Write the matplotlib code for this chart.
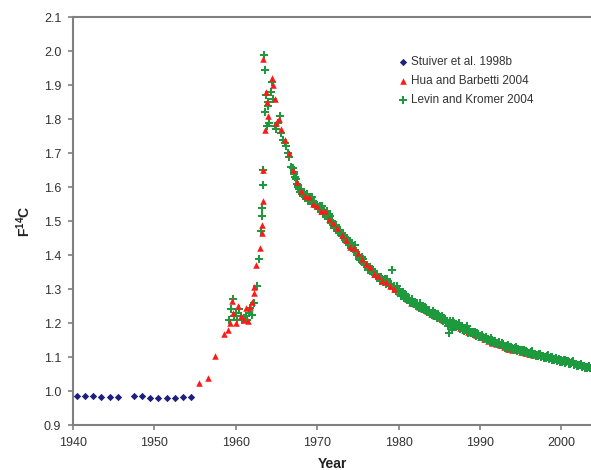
import numpy as np
import matplotlib.pyplot as plt

plt.rcParams['font.family'] = ['Liberation Sans', 'DejaVu Sans']
plt.rcParams['mathtext.fontset'] = 'custom'
plt.rcParams['mathtext.rm'] = 'Liberation Sans'
plt.rcParams['mathtext.bf'] = 'Liberation Sans:bold'

# Stuiver et al. 1998b (tree rings, pre-bomb)
stuiver_year = [1940.5, 1941.5, 1942.5, 1943.5, 1944.5, 1945.5,
                1947.5, 1948.5, 1949.5, 1950.5, 1951.5, 1952.5, 1953.5, 1954.5]
stuiver_f = [0.984, 0.985, 0.985, 0.981, 0.983, 0.983,
             0.985, 0.984, 0.980, 0.980, 0.980, 0.980, 0.983, 0.983]

# Hua and Barbetti 2004
hua_early_year = [1955.5, 1956.6, 1957.5, 1958.5, 1959.0, 1959.3, 1959.5, 1959.7,
                  1960.0, 1960.3, 1960.6, 1961.0, 1961.3, 1961.5, 1961.8, 1962.0,
                  1962.2, 1962.3, 1962.5, 1963.0, 1963.2, 1963.25, 1963.3, 1963.35,
                  1963.4, 1963.6, 1963.7, 1963.8, 1964.0, 1964.4, 1964.6, 1964.8,
                  1965.0, 1965.3, 1965.6, 1966.0, 1966.5]
hua_early_f = [1.024, 1.038, 1.103, 1.168, 1.180, 1.200, 1.265, 1.230,
               1.200, 1.250, 1.220, 1.210, 1.245, 1.205, 1.247, 1.262,
               1.288, 1.306, 1.370, 1.420, 1.465, 1.488, 1.560, 1.650,
               1.978, 1.767, 1.880, 1.850, 1.810, 1.920, 1.900, 1.860,
               1.790, 1.800, 1.770, 1.740, 1.700]
hua_start, hua_step = 1967.0, 0.5
hua_f = [1.650, 1.615, 1.590, 1.575, 1.570, 1.550, 1.545, 1.530, 1.530, 1.505,
         1.495, 1.480, 1.460, 1.445, 1.425, 1.420, 1.405, 1.390, 1.375, 1.365,
         1.345, 1.340, 1.325, 1.320, 1.310, 1.300, 1.290, 1.280, 1.272, 1.260,
         1.255, 1.248, 1.240, 1.235, 1.228, 1.222, 1.215, 1.210, 1.200, 1.195,
         1.190, 1.185, 1.180, 1.175, 1.170, 1.165, 1.158, 1.152, 1.148, 1.142,
         1.138, 1.135, 1.130, 1.125, 1.122, 1.120, 1.115, 1.112, 1.108, 1.105]

# Levin and Kromer 2004
levin_early_year = [1959.2, 1959.4, 1959.6, 1959.8, 1960.0, 1960.2, 1960.4, 1960.6,
                    1960.8, 1961.0, 1961.2, 1961.4, 1961.6, 1961.8, 1962.0, 1962.3,
                    1962.6, 1962.9, 1963.1, 1963.2, 1963.25, 1963.3, 1963.35, 1963.45,
                    1963.55, 1963.6, 1963.7, 1963.8, 1963.9, 1964.0, 1964.1, 1964.3,
                    1964.5, 1964.6, 1964.8, 1965.0, 1965.2, 1965.4, 1965.6, 1965.8,
                    1966.0, 1966.2, 1966.4, 1966.6, 1966.8]
levin_early_f = [1.210, 1.240, 1.270, 1.220, 1.230, 1.210, 1.240, 1.220,
                 1.210, 1.215, 1.220, 1.210, 1.230, 1.245, 1.225, 1.260,
                 1.310, 1.390, 1.470, 1.515, 1.540, 1.605, 1.650, 1.990,
                 1.945, 1.820, 1.870, 1.780, 1.840, 1.850, 1.790, 1.880,
                 1.910, 1.860, 1.780, 1.770, 1.790, 1.810, 1.760, 1.740,
                 1.730, 1.720, 1.700, 1.690, 1.660]
levin_a_start, levin_step = 1967.0, 0.2
levin_a_f = [1.655, 1.640, 1.625, 1.600, 1.595,
             1.590, 1.580, 1.585, 1.570, 1.575,
             1.565, 1.560, 1.570, 1.555, 1.550,
             1.545, 1.540, 1.535, 1.545, 1.525,
             1.520, 1.530, 1.510, 1.515, 1.500,
             1.490, 1.485, 1.480, 1.470, 1.475,
             1.455, 1.460, 1.445, 1.440, 1.445,
             1.430, 1.425, 1.420, 1.430, 1.410,
             1.400, 1.395, 1.385, 1.390, 1.375,
             1.370, 1.365, 1.360, 1.355, 1.360,
             1.350, 1.340, 1.345, 1.335, 1.330,
             1.330, 1.325, 1.320, 1.330, 1.315,
             1.310, 1.355, 1.305, 1.300, 1.310,
             1.295, 1.290, 1.285, 1.280, 1.285,
             1.275, 1.270, 1.265, 1.270, 1.260,
             1.258, 1.255, 1.250, 1.260, 1.245,
             1.245, 1.240, 1.245, 1.235, 1.232,
             1.230, 1.235, 1.225, 1.220, 1.228,
             1.220, 1.215, 1.210, 1.215, 1.205,
             1.205, 1.170, 1.200, 1.180, 1.200,
             1.195, 1.190, 1.200, 1.190, 1.185,
             1.185, 1.180, 1.190, 1.178, 1.175,
             1.175, 1.170, 1.175, 1.165, 1.168,
             1.162, 1.165, 1.158, 1.155, 1.160,
             1.152, 1.148, 1.155, 1.145, 1.148,
             1.142, 1.140, 1.145, 1.135, 1.138,
             1.133, 1.130, 1.135, 1.128, 1.130,
             1.126, 1.124, 1.130, 1.120, 1.122,
             1.120, 1.118, 1.122, 1.115, 1.116,
             1.113, 1.110, 1.118, 1.108, 1.110,
             1.107, 1.105, 1.110, 1.102, 1.104,
             1.101, 1.100, 1.105, 1.097, 1.099,
             1.095, 1.093, 1.098, 1.090, 1.092,
             1.090, 1.088, 1.092, 1.085, 1.087,
             1.084, 1.082, 1.087, 1.079, 1.081,
             1.078, 1.076, 1.080, 1.073, 1.075,
             1.072, 1.070, 1.074]
levin_b_start = 1967.1
levin_b_f = [1.645, 1.630, 1.610, 1.605, 1.585,
             1.580, 1.575, 1.570, 1.580, 1.560,
             1.560, 1.565, 1.550, 1.545, 1.550,
             1.535, 1.545, 1.530, 1.520, 1.530,
             1.515, 1.505, 1.520, 1.495, 1.495,
             1.480, 1.490, 1.475, 1.465, 1.460,
             1.465, 1.450, 1.440, 1.450, 1.435,
             1.420, 1.435, 1.415, 1.415, 1.400,
             1.390, 1.385, 1.395, 1.380, 1.370,
             1.365, 1.355, 1.365, 1.350, 1.345,
             1.345, 1.335, 1.335, 1.325, 1.335,
             1.320, 1.330, 1.315, 1.320, 1.310,
             1.315, 1.300, 1.310, 1.295, 1.300,
             1.290, 1.280, 1.290, 1.275, 1.278,
             1.268, 1.275, 1.260, 1.262, 1.255,
             1.250, 1.260, 1.245, 1.250, 1.240,
             1.238, 1.248, 1.232, 1.238, 1.228,
             1.225, 1.222, 1.230, 1.215, 1.222,
             1.212, 1.220, 1.205, 1.210, 1.200,
             1.190, 1.205, 1.195, 1.205, 1.192,
             1.188, 1.195, 1.183, 1.190, 1.180,
             1.178, 1.185, 1.172, 1.180, 1.170,
             1.168, 1.175, 1.162, 1.170, 1.160,
             1.158, 1.162, 1.152, 1.158, 1.150,
             1.150, 1.143, 1.150, 1.140, 1.145,
             1.138, 1.143, 1.135, 1.140, 1.132,
             1.128, 1.133, 1.125, 1.130, 1.123,
             1.122, 1.128, 1.118, 1.124, 1.117,
             1.116, 1.120, 1.112, 1.118, 1.110,
             1.108, 1.114, 1.105, 1.110, 1.103,
             1.102, 1.108, 1.100, 1.104, 1.097,
             1.097, 1.102, 1.094, 1.099, 1.091,
             1.090, 1.096, 1.088, 1.093, 1.086,
             1.085, 1.090, 1.083, 1.087, 1.080,
             1.079, 1.085, 1.077, 1.081, 1.074,
             1.073, 1.078, 1.071, 1.075, 1.068,
             1.068, 1.072, 1.067]

hua_year = np.array(hua_early_year + list(hua_start + hua_step * np.arange(len(hua_f))))
hua_all = np.array(hua_early_f + hua_f)
levin_year = (levin_early_year
              + list(levin_a_start + levin_step * np.arange(len(levin_a_f)))
              + list(levin_b_start + levin_step * np.arange(len(levin_b_f))))
levin_all = levin_early_f + levin_a_f + levin_b_f

fig = plt.figure(figsize=(5.91, 4.70), dpi=100)
ax = fig.add_axes([73/591, 1 - 425/470, 1 - 73/591, (425 - 17.3)/470])

red = '#ff1a1a'
green = '#1e9a3e'
ax.scatter(stuiver_year, stuiver_f, marker='D', s=14, color='#1f1f7f', linewidths=0,
           label='Stuiver et al. 1998b', zorder=3)
# red shows through the green band mostly before 1980
late = hua_year >= 1980
ax.scatter(hua_year[~late], hua_all[~late], marker='^', s=22, color=red, linewidths=0,
           label='Hua and Barbetti 2004', zorder=5)
ax.scatter(hua_year[late], hua_all[late], marker='^', s=22, color=red, linewidths=0,
           zorder=3)
ax.scatter(levin_year, levin_all, marker='P', s=28, color=green, linewidths=0,
           label='Levin and Kromer 2004', zorder=4)

ax.set_xlim(1940, 2003.65)
ax.set_ylim(0.9, 2.1)
ax.set_xticks([1940, 1950, 1960, 1970, 1980, 1990, 2000])
ax.set_yticks(np.arange(0.9, 2.11, 0.1))
ax.yaxis.set_major_formatter(plt.FormatStrFormatter('%.1f'))

for s in ['left', 'bottom', 'top']:
    ax.spines[s].set_color('#808080')
    ax.spines[s].set_linewidth(1.5)
ax.spines['right'].set_visible(False)
ax.tick_params(direction='out', length=3.5, width=1.2, color='#808080',
               labelsize=9, labelcolor='#333333')
ax.tick_params(axis='x', pad=5)
ax.tick_params(axis='y', pad=5)

ax.set_xlabel('Year', fontsize=10, fontweight='bold', color='#222222', labelpad=6)
ax.set_ylabel(r'$\mathbf{F^{14}C}$', fontsize=10, color='#222222', labelpad=8)

ax.legend(loc='upper left', bbox_to_anchor=(0.618, 0.92), frameon=False, fontsize=8.5,
          handlelength=0.6, handletextpad=0.4, labelspacing=0.6, borderpad=0,
          labelcolor='#333333', scatterpoints=1)

fig.savefig('out.png', dpi=100)
